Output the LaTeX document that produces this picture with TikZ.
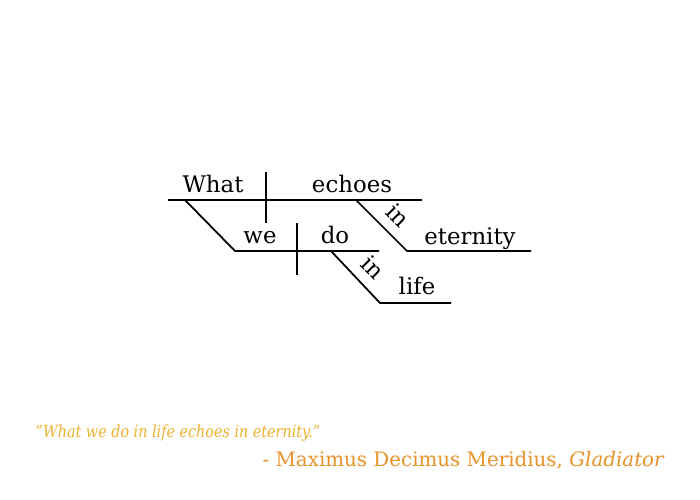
\documentclass[tikz,border=0pt]{standalone}
\usepackage{fontspec}
\setmainfont{DejaVu Serif}
\newfontfamily\quotefont[FakeStretch=0.86]{DejaVu Serif}
\usetikzlibrary{positioning}
\definecolor{quotegold}{HTML}{EDB02E}
\definecolor{quoteorange}{HTML}{E8922A}

\begin{document}
\begin{tikzpicture}[x=0.02cm, y=-0.02cm,
    word/.style={anchor=base, inner sep=0pt, font=\fontsize{13}{15}\selectfont},
    prep/.style={anchor=center, inner sep=0pt, font=\fontsize{13}{15}\selectfont, rotate=-45},
    rule/.style={line width=1pt, black}]

    \useasboundingbox (0,0) rectangle (700,500);

    %% main clause: What | echoes
    \coordinate (mainL) at (168,200);
    \coordinate (mainR) at (422,200);
    \coordinate (divTop) at (266,172);
    \coordinate (divBot) at (266,223);
    \draw[rule] (mainL) -- (mainR);
    \draw[rule] (divTop) -- (divBot);
    \node[word] (What) at (213,193) {What};
    \node[word] (echoes) at (352,193) {echoes};

    %% subordinate clause: we | do
    \coordinate (whatFoot) at (185,200);
    \coordinate (subL) at (235,251);
    \coordinate (subR) at (379,251);
    \coordinate (subdivTop) at (297,223);
    \coordinate (subdivBot) at (297,275);
    \draw[rule] (whatFoot) -- (subL) -- (subR);
    \draw[rule] (subdivTop) -- (subdivBot);
    \node[word] (we) at (260,243) {we};
    \node[word] (do) at (335,243) {do};

    %% in eternity
    \coordinate (echoFoot) at (356,200);
    \coordinate (eterL) at (407,251);
    \coordinate (eterR) at (531,251);
    \draw[rule] (echoFoot) -- (eterL) -- (eterR);
    \node[prep] (in1) at (398,215) {in};
    \node[word] (eternity) at (470,244) {eternity};

    %% in life
    \coordinate (doFoot) at (331,251);
    \coordinate (lifeL) at (380,303);
    \coordinate (lifeR) at (451,303);
    \draw[rule] (doFoot) -- (lifeL) -- (lifeR);
    \node[prep] (in2) at (373,267) {in};
    \node[word] (life) at (417,294) {life};

    %% quote
    \node[anchor=base west, inner sep=0pt, text=quotegold,
          font=\fontsize{9.5}{11}\quotefont\itshape] (quote) at (35,437)
          {“What we do in life echoes in eternity.”};
    \node[anchor=base east, inner sep=0pt, text=quoteorange,
          font=\fontsize{11.3}{13}\selectfont] (source) at (665,466)
          {- Maximus Decimus Meridius, \textit{Gladiator}};

\end{tikzpicture}
\end{document}
